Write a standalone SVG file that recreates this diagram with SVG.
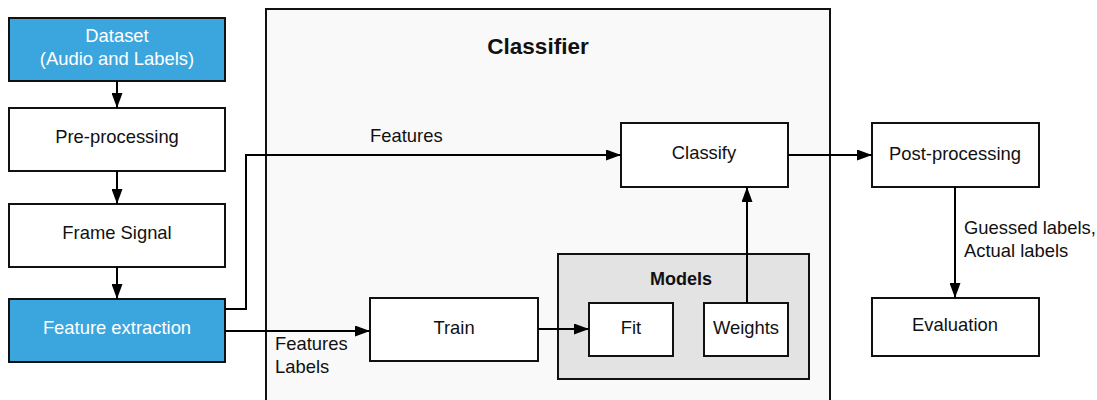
<svg xmlns="http://www.w3.org/2000/svg" width="1097" height="400" viewBox="0 0 1097 400">
<defs>
<marker id="arr" viewBox="0 0 15 11" refX="15" refY="5.5" markerWidth="15" markerHeight="11" markerUnits="userSpaceOnUse" orient="auto">
<path d="M0,0 L15,5.5 L0,11 Z" fill="#000"/>
</marker>
<style>
.box{fill:#fff;stroke:#111;stroke-width:2}
.blue{fill:#3ba6de;stroke:#111;stroke-width:2}
.t{font-family:"Liberation Sans",Arial,sans-serif;font-size:18.4px;fill:#111;text-anchor:middle}
.w{fill:#fff}
.lbl{font-family:"Liberation Sans",Arial,sans-serif;font-size:18.4px;fill:#111}
.b{font-family:"Liberation Sans",Arial,sans-serif;font-weight:bold;fill:#111;text-anchor:middle}
.c{fill:none;stroke:#000;stroke-width:2}
</style>
</defs>
<rect width="1097" height="400" fill="#fff"/>
<g id="classifier">
<rect x="266" y="9" width="564" height="400" fill="#f9f9f9" stroke="#111" stroke-width="2"/>
<text class="b" x="538" y="54" font-size="22.5">Classifier</text>
</g>
<g id="models">
<rect x="558" y="254" width="251" height="125" fill="#e3e3e3" stroke="#111" stroke-width="2"/>
<text class="b" x="681" y="285" font-size="18">Models</text>
</g>
<g id="dataset">
<rect class="blue" x="9" y="18" width="216" height="63"/>
<text class="t w" x="117" y="42">Dataset</text>
<text class="t w" x="117" y="65">(Audio and Labels)</text>
</g>
<g id="preprocessing">
<rect class="box" x="9" y="108" width="216" height="63"/>
<text class="t" x="117" y="143">Pre-processing</text>
</g>
<g id="framesignal">
<rect class="box" x="9" y="204" width="216" height="63"/>
<text class="t" x="117" y="239">Frame Signal</text>
</g>
<g id="featureextraction">
<rect class="blue" x="9" y="299" width="216" height="63"/>
<text class="t w" x="117" y="334">Feature extraction</text>
</g>
<g id="train">
<rect class="box" x="370" y="298" width="168" height="63"/>
<text class="t" x="454" y="334">Train</text>
</g>
<g id="fit">
<rect class="box" x="589" y="303" width="84" height="53"/>
<text class="t" x="631" y="334">Fit</text>
</g>
<g id="weights">
<rect class="box" x="704" y="303" width="84" height="53"/>
<text class="t" x="746" y="334">Weights</text>
</g>
<g id="classify">
<rect class="box" x="621" y="123" width="167" height="64"/>
<text class="t" x="704" y="159">Classify</text>
</g>
<g id="postprocessing">
<rect class="box" x="872" y="123" width="167" height="64"/>
<text class="t" x="955" y="160">Post-processing</text>
</g>
<g id="evaluation">
<rect class="box" x="872" y="298" width="167" height="58"/>
<text class="t" x="955" y="331">Evaluation</text>
</g>
<g id="connectors">
<line class="c" x1="117" y1="81" x2="117" y2="108" marker-end="url(#arr)"/>
<line class="c" x1="117" y1="171" x2="117" y2="204" marker-end="url(#arr)"/>
<line class="c" x1="117" y1="267" x2="117" y2="299" marker-end="url(#arr)"/>
<polyline class="c" points="225,309 246,309 246,155 621,155" marker-end="url(#arr)"/>
<text class="lbl" x="370" y="142">Features</text>
<line class="c" x1="225" y1="331" x2="370" y2="331" marker-end="url(#arr)"/>
<text class="lbl" x="275" y="350">Features</text>
<text class="lbl" x="275" y="373">Labels</text>
<line class="c" x1="538" y1="329" x2="589" y2="329" marker-end="url(#arr)"/>
<line class="c" x1="747" y1="303" x2="747" y2="187" marker-end="url(#arr)"/>
<line class="c" x1="788" y1="155" x2="872" y2="155" marker-end="url(#arr)"/>
<line class="c" x1="955" y1="187" x2="955" y2="298" marker-end="url(#arr)"/>
<text class="lbl" x="964" y="234">Guessed labels,</text>
<text class="lbl" x="964" y="257">Actual labels</text>
</g>
</svg>
